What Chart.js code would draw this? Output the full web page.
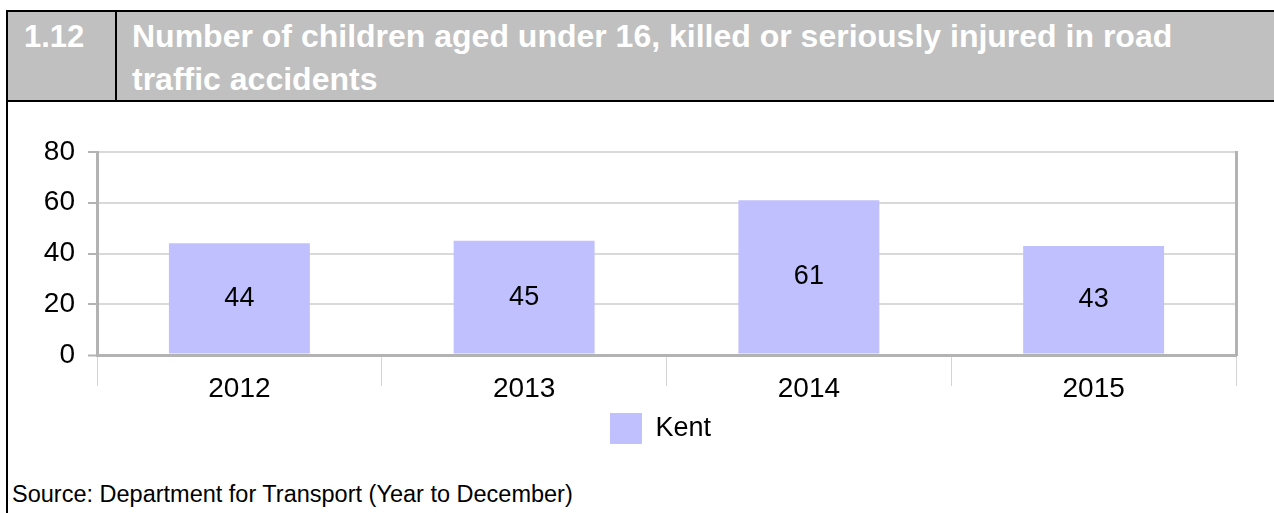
<!DOCTYPE html>
<html>
<head>
<meta charset="utf-8">
<script src="https://cdn.jsdelivr.net/npm/chart.js@4.4.1/dist/chart.umd.min.js"></script>
<style>
  html, body { margin: 0; padding: 0; background: #fff; }
  body { width: 1274px; height: 513px; position: relative; overflow: hidden; font-family: "Liberation Sans", Arial, sans-serif; }
  #header { position: absolute; left: 6px; top: 10px; width: 1300px; height: 88px; background: #c0c0c0; border-top: 2px solid #000; border-bottom: 2px solid #000; }
  #leftline { position: absolute; left: 6px; top: 10px; width: 2px; height: 510px; background: #000; }
  #divider { position: absolute; left: 115px; top: 10px; width: 2px; height: 92px; background: #000; }
  #num { position: absolute; left: 24px; top: 15px; font-weight: bold; font-size: 31px; line-height: 43px; color: #fff; }
  #title { position: absolute; left: 132px; top: 15px; width: 1100px; font-weight: bold; font-size: 32px; line-height: 43px; color: #fff; }
  #source { position: absolute; left: 12px; top: 481px; font-size: 23.5px; line-height: 26px; color: #000; }
  #wrap { position: absolute; left: 0; top: 101px; width: 1274px; height: 370px; }
</style>
</head>
<body>
<div id="header"></div>
<div id="leftline"></div>
<div id="divider"></div>
<div id="num">1.12</div>
<div id="title">Number of children aged under 16, killed or seriously injured in road traffic accidents</div>
<div id="wrap"><canvas id="c" width="1274" height="370"></canvas></div>
<div id="source">Source: Department for Transport (Year to December)</div>
<script>
const categories = ["2012", "2013", "2014", "2015"];
const kentValues = [44, 45, 61, 43];
const seriesName = "Kent";
const yTicks = [0, 20, 40, 60, 80];

const FONT = "'Liberation Sans', Arial, sans-serif";

const barLabels = {
  id: 'barLabels',
  afterDatasetsDraw(chart) {
    const ctx = chart.ctx;
    ctx.save();
    ctx.font = "27px " + FONT;
    ctx.fillStyle = "#000";
    ctx.textAlign = "center";
    ctx.textBaseline = "middle";
    chart.getDatasetMeta(0).data.forEach((bar, i) => {
      const v = chart.data.datasets[0].data[i];
      ctx.fillText(String(v), bar.x, (bar.y + bar.base) / 2);
    });
    ctx.restore();
  }
};

const legendNudge = {
  id: 'legendNudge',
  afterLayout(chart) {
    const l = chart.legend;
    if (l) { l.left -= 6; l.right -= 6; }
  }
};

new Chart(document.getElementById('c'), {
  type: 'bar',
  data: {
    labels: categories,
    datasets: [{
      label: seriesName,
      data: kentValues,
      backgroundColor: '#c0c0ff',
      borderWidth: 0,
      categoryPercentage: 1,
      barPercentage: 0.495
    }]
  },
  options: {
    responsive: false,
    animation: false,
    events: [],
    layout: { padding: { top: 51, right: 38, left: 0, bottom: 17 } },
    plugins: {
      tooltip: { enabled: false },
      legend: {
        position: 'bottom',
        fullSize: false,
        labels: {
          boxWidth: 32,
          boxHeight: 31,
          padding: 10,
          color: '#000',
          font: { family: FONT, size: 27 }
        }
      }
    },
    scales: {
      x: {
        offset: true,
        grid: {
          offset: true,
          drawOnChartArea: false,
          drawTicks: true,
          tickLength: 31,
          color: '#d4d4d4',
          lineWidth: 1
        },
        border: { display: true, color: '#b3b3b3', width: 3 },
        ticks: {
          color: '#000',
          padding: -14,
          font: { family: FONT, size: 28 }
        },
        afterFit(scale) { scale.height = 48; }
      },
      y: {
        min: 0,
        max: 80,
        afterBuildTicks(scale) { scale.ticks = yTicks.map(v => ({ value: v })); },
        grid: {
          color: (c) => c.tick && c.tick.value === 0 ? '#b3b3b3' : '#d9d9d9',
          lineWidth: (c) => c.tick && c.tick.value === 0 ? 3 : 2,
          tickColor: '#b3b3b3',
          tickLength: 9,
          tickWidth: 2
        },
        border: { display: true, color: '#b3b3b3', width: 3 },
        ticks: {
          color: '#000',
          padding: 13,
          font: { family: FONT, size: 28 }
        },
        afterFit(scale) { scale.width = 97; }
      },
      y2: {
        position: 'right',
        min: 0,
        max: 80,
        grid: { drawOnChartArea: false, drawTicks: false },
        border: { display: true, color: '#b3b3b3', width: 3 },
        ticks: { display: false },
        afterFit(scale) { scale.width = 0; }
      }
    }
  },
  plugins: [barLabels, legendNudge]
});
</script>
</body>
</html>
